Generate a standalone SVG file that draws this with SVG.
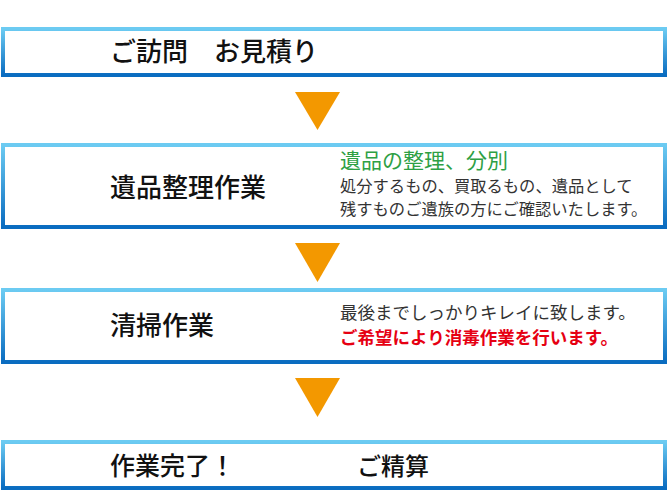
<svg xmlns="http://www.w3.org/2000/svg" width="670" height="492" viewBox="0 0 670 492">
<defs>
<linearGradient id="bd" x1="0" y1="0" x2="0" y2="1">
<stop offset="0" stop-color="#6ccbf2"/>
<stop offset="1" stop-color="#0a6cc0"/>
</linearGradient>
</defs>
<style>
.box{fill:#fff;stroke:url(#bd);stroke-width:4}
.t{font-family:"Noto Sans CJK JP","Noto Sans",sans-serif;fill:#111;font-weight:500}
.s{font-family:"Noto Sans CJK JP","Noto Sans",sans-serif;fill:#333;font-size:16.3px}
.g{font-family:"Noto Sans CJK JP","Noto Sans",sans-serif;fill:#2ea044;font-size:21px}
.r{font-family:"Noto Sans CJK JP","Noto Sans",sans-serif;fill:#e60012;font-size:17.5px;font-weight:700}
.arr{fill:#f39800}
</style>
<g id="connectors">
<polygon class="arr" points="295,92 340,92 317.5,130"/>
<polygon class="arr" points="295,243 340,243 317.5,282"/>
<polygon class="arr" points="295,378 340,378 317.5,417"/>
</g>
<g id="node1">
<rect class="box" x="3" y="29" width="662" height="46"/>
<text class="t" x="110" y="61" font-size="26">ご訪問　お見積り</text>
</g>
<g id="node2">
<rect class="box" x="3" y="145" width="662" height="82"/>
<text class="t" x="110" y="197" font-size="26">遺品整理作業</text>
<text class="g" x="340" y="168">遺品の整理、分別</text>
<text class="s" x="340" y="192">処分するもの、買取るもの、遺品として</text>
<text class="s" x="340" y="214.5">残すものご遺族の方にご確認いたします。</text>
</g>
<g id="node3">
<rect class="box" x="3" y="290" width="662" height="72"/>
<text class="t" x="110" y="335" font-size="26">清掃作業</text>
<text class="s" x="340" y="319" style="font-size:17.5px">最後までしっかりキレイに致します。</text>
<text class="r" x="340" y="344">ご希望により消毒作業を行います。</text>
</g>
<g id="node4">
<rect class="box" x="3" y="442" width="662" height="46"/>
<text class="t" x="110" y="475" font-size="25">作業完了！</text>
<text class="t" x="357" y="475" font-size="24">ご精算</text>
</g>
</svg>
